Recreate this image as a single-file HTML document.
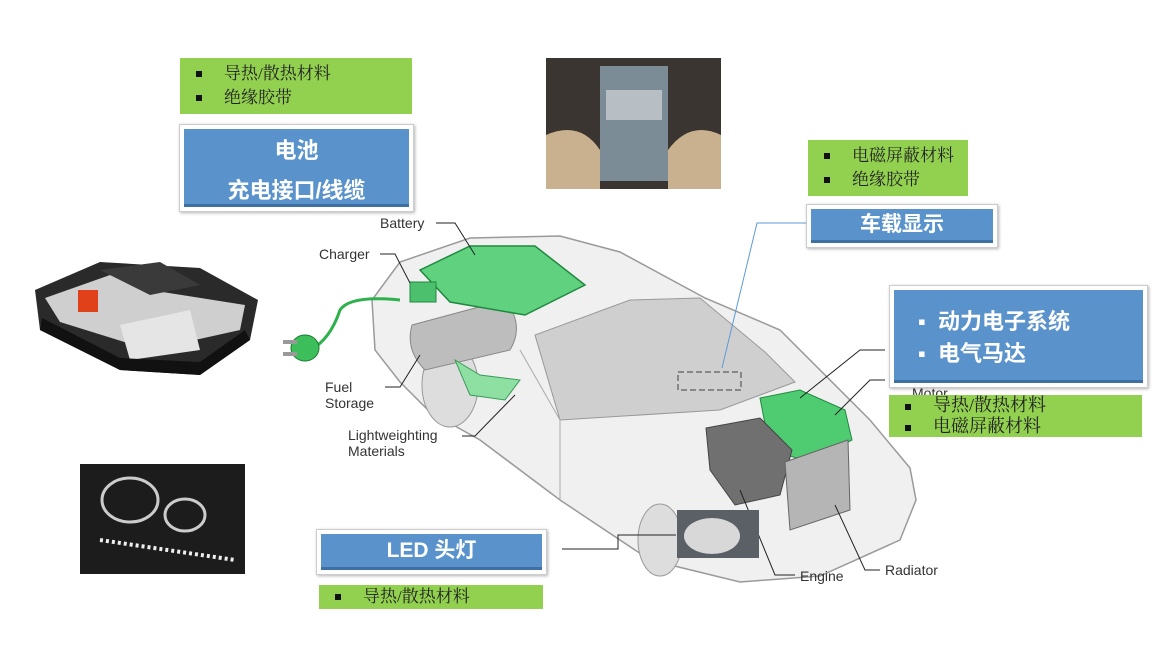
<!DOCTYPE html>
<html><head><meta charset="utf-8"><style>
body{margin:0;width:1168px;height:656px;background:#fff;position:relative;overflow:hidden;font-family:"Liberation Sans","Noto Sans CJK SC",sans-serif}
.g{position:absolute;background:#92d050;color:#222;font-size:17px;line-height:24px;font-family:"Liberation Serif","Noto Serif CJK SC",serif}
.g div{position:relative;padding-left:44px}
.g div:before{content:"";position:absolute;left:16px;top:9px;width:6px;height:6px;background:#111}
.b{position:absolute;background:#fff;border:1px solid #ccc;box-shadow:1px 1px 3px rgba(0,0,0,.3)}
.b>div{position:absolute;left:4px;top:4px;right:4px;bottom:4px;background:#5a93cc;border-bottom:3px solid #3f70a3;color:#fff;font-weight:bold;text-align:center}
.lbl{position:absolute;font-size:14px;color:#333;line-height:16px}
</style></head><body>
<svg width="1168" height="656" style="position:absolute;left:0;top:0">
<path d="M372,300 L400,262 L470,238 L560,236 L620,252 L705,298 L780,330 L870,420 L910,468 L916,500 L900,540 L820,576 L740,582 L650,560 L560,500 L480,440 L430,412 L400,382 L375,350 Z" fill="#f0f0f0" stroke="#9a9a9a" stroke-width="1.5"/>
<path d="M560,420 L535,335 L630,300 L700,298 L765,352 L795,382 L720,410 Z" fill="#cfcfcf" stroke="#999"/>
<path d="M520,350 L560,420 L560,500" fill="none" stroke="#aaa"/>
<ellipse cx="450" cy="385" rx="28" ry="42" fill="#ddd" stroke="#999"/>
<ellipse cx="660" cy="540" rx="22" ry="36" fill="#ddd" stroke="#999"/>
<path d="M412,325 L505,300 Q525,325 510,350 L425,370 Q405,350 412,325 Z" fill="#bdbdbd" stroke="#888"/>
<path d="M420,270 L470,246 L535,246 L585,285 L525,315 L450,302 Z" fill="#5fd17f" stroke="#1f8a3f" stroke-width="1.5"/>
<rect x="410" y="282" width="26" height="20" fill="#4cc06c" stroke="#1f8a3f"/>
<path d="M455,360 L480,375 L520,380 L505,400 L470,395 Z" fill="#8ee0a2" stroke="#3a9a5a"/>
<path d="M760,398 L800,390 L845,410 L852,440 L810,462 L770,450 Z" fill="#4fcc72" stroke="#1f8a3f"/>
<path d="M706,428 L760,418 L792,450 L780,495 L735,505 L710,470 Z" fill="#707070" stroke="#444"/>
<path d="M785,462 L848,440 L850,510 L790,530 Z" fill="#b5b5b5" stroke="#666"/>
<rect x="678" y="372" width="63" height="18" fill="none" stroke="#888" stroke-width="2" stroke-dasharray="6,3"/>
<path d="M310,350 Q330,340 340,310 Q350,295 400,300" fill="none" stroke="#2eb04c" stroke-width="3"/>
<ellipse cx="305" cy="348" rx="14" ry="13" fill="#3cbf5a" stroke="#1a7a30"/>
<rect x="283" y="340" width="14" height="4" fill="#999"/><rect x="283" y="352" width="14" height="4" fill="#999"/>
<g stroke="#222" fill="none" stroke-width="1">
<path d="M436,223 L455,223 L475,255"/><path d="M380,254 L395,254 L410,283"/>
<path d="M385,387 L400,387 L420,355"/><path d="M462,436 L475,436 L515,395"/>
<path d="M885,350 L860,350 L800,398"/><path d="M885,380 L870,380 L835,415"/>
<path d="M795,575 L775,575 L740,490"/><path d="M880,570 L865,570 L835,505"/>
<path d="M562,549 L618,549 L618,535 L676,535"/>
</g>
<path d="M806,223 L757,223 L722,368" fill="none" stroke="#5b9bd5" stroke-width="1"/>
<!-- battery pack photo -->
<path d="M35,290 L100,262 L200,268 L258,300 L250,340 L200,375 L120,370 L40,330 Z" fill="#2a2a2a"/>
<path d="M45,298 L110,275 L150,290 L245,305 L240,330 L150,350 L60,322 Z" fill="#cfcfcf"/>
<path d="M100,270 L160,262 L200,285 L150,295 Z" fill="#3a3a3a"/>
<rect x="78" y="290" width="20" height="22" fill="#e0401a"/>
<path d="M120,325 L190,310 L200,350 L130,360 Z" fill="#e5e5e5"/>
<path d="M40,330 L120,370 L200,375 L250,340 L245,330 L200,362 L120,358 L42,318 Z" fill="#111"/>
<!-- photos -->
<rect x="546" y="58" width="175" height="131" fill="#3a3530"/>
<rect x="600" y="66" width="68" height="115" fill="#7c8c96"/>
<rect x="606" y="90" width="56" height="30" fill="#b8bfc4"/>
<path d="M546,135 Q580,120 600,150 L600,189 L546,189 Z" fill="#c9b18f"/>
<path d="M721,135 Q690,120 668,150 L668,189 L721,189 Z" fill="#c9b18f"/>
<rect x="80" y="464" width="165" height="110" fill="#1c1c1c"/>
<ellipse cx="130" cy="500" rx="28" ry="22" fill="none" stroke="#ccc" stroke-width="3"/>
<ellipse cx="185" cy="515" rx="20" ry="16" fill="none" stroke="#ccc" stroke-width="3"/>
<path d="M100,540 L235,560" stroke="#eee" stroke-width="4" stroke-dasharray="3,3"/>
<rect x="677" y="510" width="82" height="48" fill="#5a6066"/>
<ellipse cx="712" cy="536" rx="28" ry="18" fill="#d8d8d8"/>
</svg>
<div class="lbl" style="left:380px;top:215px">Battery</div>
<div class="lbl" style="left:319px;top:246px">Charger</div>
<div class="lbl" style="left:325px;top:379px">Fuel<br>Storage</div>
<div class="lbl" style="left:348px;top:427px">Lightweighting<br>Materials</div>
<div class="lbl" style="left:800px;top:568px">Engine</div>
<div class="lbl" style="left:885px;top:562px">Radiator</div>
<div class="lbl" style="left:912px;top:385px">Motor</div>

<div class="g" style="left:180px;top:58px;width:232px;height:56px;padding-top:4px;box-sizing:border-box"><div>导热/散热材料</div><div>绝缘胶带</div></div>
<div class="b" style="left:179px;top:124px;width:233px;height:86px"><div style="font-size:22px;line-height:40px;padding-top:2px">电池<br>充电接口/线缆</div></div>

<div class="g" style="left:808px;top:140px;width:160px;height:56px;padding-top:4px;box-sizing:border-box"><div>电磁屏蔽材料</div><div>绝缘胶带</div></div>
<div class="b" style="left:806px;top:204px;width:190px;height:42px"><div style="font-size:21px;line-height:32px">车载显示</div></div>

<div class="b" style="left:889px;top:285px;width:257px;height:101px"><div style="font-size:22px;line-height:32px;text-align:left;padding:16px 0 0 24px">▪&nbsp;&nbsp;动力电子系统<br>▪&nbsp;&nbsp;电气马达</div></div>
<div class="g" style="left:889px;top:395px;width:253px;height:42px;font-size:18px;line-height:21px"><div>导热/散热材料</div><div>电磁屏蔽材料</div></div>

<div class="b" style="left:316px;top:529px;width:229px;height:44px"><div style="font-size:21px;line-height:34px">LED 头灯</div></div>
<div class="g" style="left:319px;top:585px;width:224px;height:24px;font-size:17px"><div style="padding-left:44px">导热/散热材料</div></div>
</body></html>
